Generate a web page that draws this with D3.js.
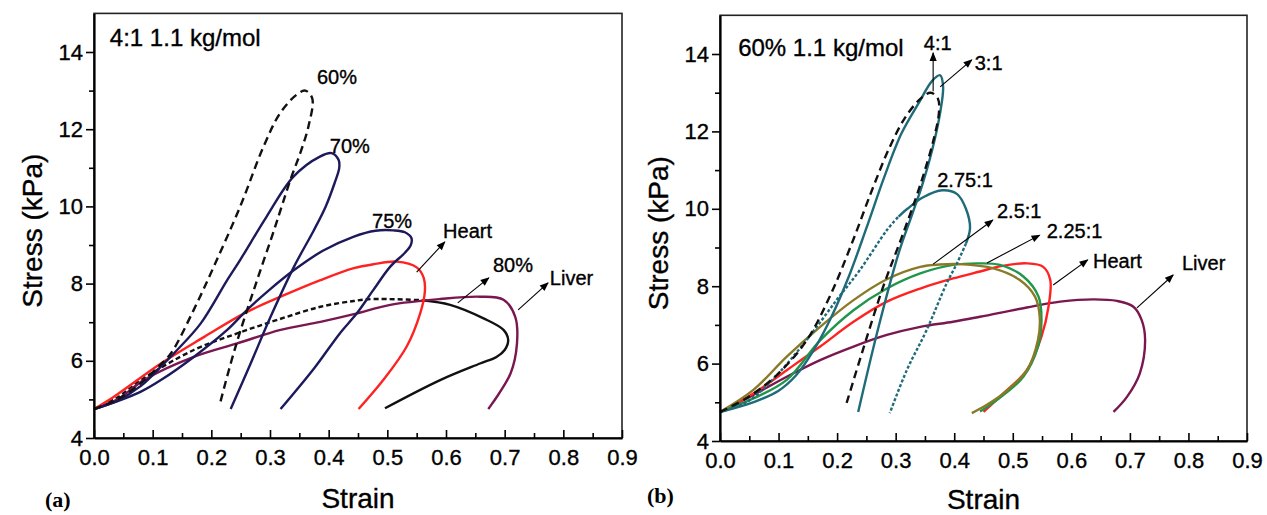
<!DOCTYPE html>
<html>
<head>
<meta charset="utf-8">
<script src="https://cdn.jsdelivr.net/npm/d3@7"></script>
<style>
    body { margin: 0; background: #fff; }
    svg { display: block; font-family: Arial, "Liberation Sans", sans-serif; }
</style>
</head>
<body>
<svg id="chart" width="1267" height="515"></svg>
<script>
const STRAIN_TICKS = [0.0, 0.1, 0.2, 0.3, 0.4, 0.5, 0.6, 0.7, 0.8, 0.9];
const STRESS_TICKS = [4, 6, 8, 10, 12, 14];
const STRAIN_MINOR = [0.05, 0.15, 0.25, 0.35, 0.45, 0.55, 0.65, 0.75, 0.85];
const STRESS_MINOR = [5, 7, 9, 11, 13];
const STRAIN_DOMAIN = [0, 0.9];
const STRESS_DOMAIN = [4, 15];

// (a) 4:1, 1.1 kg/mol, different concentrations  [strain, stress kPa]
const a60 = [[0,4.75],[0.04,5.0],[0.08,5.42],[0.11,5.85],[0.131,6.19],[0.17,7.32],[0.206,8.5],[0.249,9.99],
    [0.289,11.55],[0.317,12.41],[0.345,12.89],[0.36,13.0],[0.372,12.8],[0.366,12.1],[0.352,11.4],[0.335,10.7],
    [0.32,10.0],[0.307,9.39],[0.278,8.09],[0.25,6.8],[0.233,5.93],[0.214,4.85]];
const a70 = [[0,4.75],[0.04,4.97],[0.08,5.35],[0.114,5.85],[0.136,6.19],[0.182,6.97],[0.227,8.09],[0.249,8.61],
    [0.294,9.73],[0.34,10.77],[0.385,11.29],[0.405,11.38],[0.417,11.2],[0.418,11.0],[0.41,10.6],[0.395,10.0],
    [0.375,9.39],[0.341,8.44],[0.301,7.14],[0.267,5.93],[0.233,4.75]];
const a75 = [[0,4.75],[0.045,4.98],[0.08,5.2],[0.114,5.5],[0.17,6.1],[0.227,6.8],[0.261,7.32],[0.3,7.85],
    [0.341,8.35],[0.39,8.85],[0.443,9.22],[0.48,9.37],[0.51,9.38],[0.53,9.33],[0.541,9.18],[0.54,9.0],
    [0.53,8.8],[0.505,8.44],[0.476,7.83],[0.448,7.23],[0.419,6.71],[0.375,5.8],[0.318,4.75]];
const aHeart = [[0,4.75],[0.034,5.07],[0.114,5.93],[0.188,6.62],[0.256,7.23],[0.318,7.66],[0.386,8.09],[0.443,8.4],
    [0.476,8.5],[0.516,8.57],[0.55,8.42],[0.562,8.15],[0.564,7.8],[0.556,7.23],[0.533,6.37],[0.493,5.5],[0.451,4.75]];
const a80Load = [[0,4.75],[0.04,5.05],[0.085,5.55],[0.17,6.28],[0.244,6.71],[0.3125,7.06],[0.386,7.4],[0.443,7.55],
    [0.476,7.6],[0.56,7.57]];
const a80Unload = [[0.56,7.57],[0.607,7.45],[0.664,7.1],[0.698,6.8],[0.706,6.54],[0.70,6.28],[0.686,6.1],
    [0.658,5.93],[0.59,5.5],[0.496,4.77]];
const aLiver = [[0,4.75],[0.04,5.0],[0.085,5.5],[0.17,6.1],[0.244,6.45],[0.318,6.8],[0.386,7.01],[0.443,7.21],
    [0.505,7.45],[0.59,7.6],[0.658,7.66],[0.698,7.58],[0.718,7.14],[0.721,6.45],[0.71,5.67],[0.672,4.75]];

// (b) 60%, 1.1 kg/mol, different ratios
const b41 = [[0,4.75],[0.05,5.15],[0.1,5.75],[0.148,6.6],[0.188,7.75],[0.225,9.1],[0.26,10.5],[0.29,11.6],
    [0.318,12.4],[0.345,12.88],[0.36,13.0],[0.372,12.85],[0.374,12.5],[0.365,11.8],[0.35,11.0],[0.335,10.3],
    [0.31,9.25],[0.279,8.0],[0.245,6.4],[0.216,4.97]];
const b31 = [[0,4.75],[0.06,5.02],[0.1,5.3],[0.13,5.7],[0.16,6.35],[0.19,7.2],[0.22,8.25],[0.25,9.5],[0.28,10.8],
    [0.31,11.95],[0.34,12.75],[0.362,13.3],[0.376,13.45],[0.381,13.15],[0.375,12.4],[0.362,11.5],[0.345,10.6],
    [0.328,9.85],[0.305,8.85],[0.27,6.9],[0.236,4.75]];
const b275Load = [[0,4.75],[0.05,5.05],[0.097,5.7],[0.15,6.65],[0.199,7.64],[0.239,8.42],[0.285,9.45],[0.305,9.8]];
const b275Top = [[0.305,9.8],[0.32,10.0],[0.347,10.3],[0.38,10.48],[0.405,10.38],[0.42,10.0],[0.427,9.5],[0.42,9.1]];
const b275Unload = [[0.42,9.1],[0.405,8.6],[0.387,8.07],[0.353,6.87],[0.319,5.83],[0.29,4.72]];
const b25 = [[0,4.75],[0.057,5.1],[0.114,5.58],[0.171,6.6],[0.228,7.38],[0.285,7.94],[0.342,8.33],[0.398,8.55],
    [0.444,8.59],[0.478,8.55],[0.518,8.25],[0.544,7.73],[0.549,7.13],[0.543,6.44],[0.518,5.66],[0.472,5.05],[0.444,4.76]];
const b225 = [[0,4.75],[0.057,5.32],[0.114,6.18],[0.171,6.95],[0.228,7.64],[0.285,8.18],[0.342,8.5],[0.375,8.56],
    [0.41,8.57],[0.467,8.46],[0.512,8.16],[0.538,7.73],[0.546,7.21],[0.543,6.61],[0.524,5.83],[0.484,5.23],
    [0.455,4.93],[0.43,4.72]];
const bHeart = [[0,4.75],[0.057,5.23],[0.114,5.83],[0.171,6.44],[0.228,7.08],[0.285,7.6],[0.342,7.94],[0.398,8.2],
    [0.444,8.38],[0.48,8.52],[0.524,8.59],[0.552,8.5],[0.564,8.16],[0.561,7.47],[0.549,6.7],[0.524,5.83],[0.484,5.23],[0.45,4.75]];
const bLiver = [[0,4.75],[0.057,5.19],[0.114,5.66],[0.171,6.09],[0.228,6.44],[0.285,6.74],[0.342,6.95],[0.398,7.08],
    [0.444,7.21],[0.524,7.45],[0.581,7.6],[0.638,7.66],[0.678,7.62],[0.706,7.47],[0.72,7.13],[0.726,6.61],
    [0.717,5.75],[0.695,5.14],[0.672,4.75]];

// labels: text, [strain, stress] of baseline start, font size
const aLabels = [['4:1 1.1 kg/mol', [0.027, 14.16], 24], ['60%', [0.38, 13.17], 20], ['70%', [0.402, 11.38], 20],
    ['75%', [0.474, 9.44], 20], ['Heart', [0.595, 9.18], 20], ['80%', [0.68, 8.3], 20], ['Liver', [0.777, 7.96], 20]];
const aArrows = [[[0.55, 8.3], [0.598, 9.08]], [[0.62, 7.5], [0.673, 8.15]], [[0.723, 7.32], [0.774, 8.02]]];
const bLabels = [['60% 1.1 kg/mol', [0.031, 13.95], 24], ['4:1', [0.348, 14.1], 20], ['3:1', [0.435, 13.59], 20],
    ['2.75:1', [0.371, 10.56], 20], ['2.5:1', [0.473, 9.76], 20], ['2.25:1', [0.558, 9.25], 20],
    ['Heart', [0.637, 8.47], 20], ['Liver', [0.789, 8.42], 20]];
const bArrows = [[[0.364, 13.04], [0.364, 14.03]], [[0.376, 13.15], [0.43, 13.85]], [[0.364, 8.57], [0.466, 9.71]],
    [[0.456, 8.6], [0.546, 9.32]], [[0.569, 8.03], [0.628, 8.68]], [[0.712, 7.44], [0.774, 8.29]]];

const NAVY = '#1d1a5c', RED = '#ff2222', LIVER = '#7a1650', BLACK = '#111111';
const TEAL = '#1f6b79', GREEN = '#1f964a', OLIVE = '#8a7a26';

const svg = d3.select('#chart');
svg.append('rect').attr('width', 1267).attr('height', 515).attr('fill', '#fff');

const defs = svg.append('defs');
defs.append('marker')
    .attr('id', 'arrowHead')
    .attr('markerUnits', 'userSpaceOnUse')
    .attr('viewBox', '0 0 10 10')
    .attr('refX', 9).attr('refY', 5)
    .attr('markerWidth', 11).attr('markerHeight', 9)
    .attr('orient', 'auto')
    .append('path')
    .attr('d', 'M0,1 L10,5 L0,9 Z')
    .attr('fill', '#000');

function heavyText(sel) {
    // the reference print has slightly heavy glyphs
    sel.attr('stroke', '#000').attr('stroke-width', 0.35).attr('fill', '#000');
}

function drawPanel(box, curves, labels, arrows, tag) {
    const x = d3.scaleLinear().domain(STRAIN_DOMAIN).range([box.left, box.right]);
    const y = d3.scaleLinear().domain(STRESS_DOMAIN).range([box.bottom, box.top]);
    const g = svg.append('g');

    const line = d3.line()
        .x(d => x(d[0]))
        .y(d => y(d[1]))
        .curve(d3.curveCatmullRom.alpha(0.5));

    g.selectAll('.curve')
        .data(curves)
        .enter()
        .append('path')
        .attr('class', 'curve')
        .attr('d', d => line(d.data))
        .attr('fill', 'none')
        .attr('stroke', d => d.color)
        .attr('stroke-width', d => d.width || 2.4)
        .attr('stroke-dasharray', d => d.dash || null)
        .attr('stroke-linejoin', 'round');

    g.selectAll('.arrow')
        .data(arrows)
        .enter()
        .append('line')
        .attr('class', 'arrow')
        .attr('x1', d => x(d[0][0])).attr('y1', d => y(d[0][1]))
        .attr('x2', d => x(d[1][0])).attr('y2', d => y(d[1][1]))
        .attr('stroke', '#000')
        .attr('stroke-width', 1.1)
        .attr('marker-end', 'url(#arrowHead)');

    g.selectAll('.note')
        .data(labels)
        .enter()
        .append('text')
        .attr('class', 'note')
        .attr('x', d => x(d[1][0]))
        .attr('y', d => y(d[1][1]))
        .style('font-size', d => d[2] + 'px')
        .text(d => d[0])
        .call(heavyText);

    // frame
    g.append('rect')
        .attr('x', box.left).attr('y', box.top)
        .attr('width', box.right - box.left).attr('height', box.bottom - box.top)
        .attr('fill', 'none')
        .attr('stroke', '#222')
        .attr('stroke-width', 1.6);

    // minor ticks
    g.append('g')
        .attr('transform', `translate(0,${box.bottom})`)
        .call(d3.axisBottom(x).tickValues(STRAIN_MINOR).tickSize(-5).tickSizeOuter(0).tickFormat(''))
        .call(a => a.select('.domain').remove())
        .selectAll('line').attr('stroke-width', 1.6);
    g.append('g')
        .attr('transform', `translate(${box.left},0)`)
        .call(d3.axisLeft(y).tickValues(STRESS_MINOR).tickSize(5).tickSizeOuter(0).tickFormat(''))
        .call(a => a.select('.domain').remove())
        .selectAll('line').attr('stroke-width', 1.6);

    // major axes
    const xAxis = g.append('g')
        .attr('transform', `translate(0,${box.bottom})`)
        .call(d3.axisBottom(x).tickValues(STRAIN_TICKS).tickSize(-8).tickSizeOuter(0)
            .tickPadding(11).tickFormat(d3.format('.1f')));
    const yAxis = g.append('g')
        .attr('transform', `translate(${box.left},0)`)
        .call(d3.axisLeft(y).tickValues(STRESS_TICKS).tickSize(8).tickSizeOuter(0)
            .tickPadding(3).tickFormat(d3.format('d')));
    [xAxis, yAxis].forEach(ax => {
        ax.select('.domain').attr('stroke-width', 2.2).attr('stroke', '#000');
        ax.selectAll('.tick line').attr('stroke-width', 1.6);
        ax.selectAll('text')
            .style('font-size', '22px')
            .style('font-family', 'Arial, "Liberation Sans", sans-serif')
            .call(heavyText);
    });

    // axis titles
    g.append('text')
        .attr('x', (box.left + box.right) / 2)
        .attr('y', box.titleY)
        .attr('text-anchor', 'middle')
        .style('font-size', '28px')
        .text('Strain')
        .call(heavyText);
    g.append('text')
        .attr('transform', `translate(${box.left - 52},${(box.top + box.bottom) / 2 + 5}) rotate(-90)`)
        .attr('text-anchor', 'middle')
        .style('font-size', '28px')
        .text('Stress (kPa)')
        .call(heavyText);

    g.append('text')
        .attr('x', tag.x).attr('y', tag.y)
        .style('font-family', '"Liberation Serif", "Times New Roman", serif')
        .style('font-weight', 'bold')
        .style('font-size', '22px')
        .text(tag.text);
}

drawPanel(
    { left: 94, right: 622, top: 13.4, bottom: 438, titleY: 508 },
    [
        { data: a80Load, color: BLACK, dash: '5,3' },
        { data: a80Unload, color: BLACK },
        { data: aLiver, color: LIVER },
        { data: aHeart, color: RED },
        { data: a75, color: NAVY },
        { data: a70, color: NAVY },
        { data: a60, color: BLACK, dash: '8,5' }
    ],
    aLabels, aArrows, { text: '(a)', x: 45, y: 507 }
);

drawPanel(
    { left: 720, right: 1247, top: 15.3, bottom: 441, titleY: 509 },
    [
        { data: bLiver, color: LIVER },
        { data: bHeart, color: RED },
        { data: b25, color: GREEN },
        { data: b225, color: OLIVE },
        { data: b275Load, color: TEAL, dash: '3,2' },
        { data: b275Top, color: TEAL },
        { data: b275Unload, color: TEAL, dash: '3,2' },
        { data: b31, color: TEAL },
        { data: b41, color: BLACK, dash: '8,5' }
    ],
    bLabels, bArrows, { text: '(b)', x: 647, y: 503 }
);
</script>
</body>
</html>
